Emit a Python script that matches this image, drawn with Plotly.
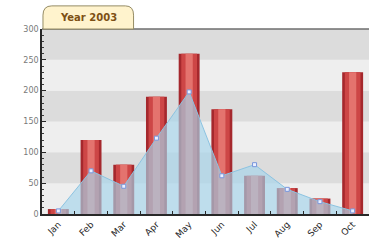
import plotly.graph_objects as go

months = ["Jan", "Feb", "Mar", "Apr", "May", "Jun", "Jul", "Aug", "Sep", "Oct"]
bar_values = [8, 120, 80, 190, 260, 170, 62, 42, 25, 230]
line_values = [5, 70, 45, 123, 198, 62, 80, 40, 20, 5]
y_ticks = [0, 50, 100, 150, 200, 250, 300]
title_text = "Year 2003"

fig = go.Figure()

# cylinder-like bars: dark outer, lighter inner
fig.add_trace(go.Bar(x=months, y=bar_values, width=0.64,
                     marker=dict(color="rgb(165,40,45)", line=dict(width=0)),
                     hoverinfo="skip", showlegend=False))
fig.add_trace(go.Bar(x=months, y=bar_values, width=0.48,
                     marker=dict(color="rgb(205,70,70)", line=dict(width=0)),
                     hoverinfo="skip", showlegend=False))
fig.add_trace(go.Bar(x=months, y=bar_values, width=0.22,
                     marker=dict(color="rgb(228,115,110)", line=dict(width=0)),
                     hoverinfo="skip", showlegend=False))

fig.add_trace(go.Scatter(x=months, y=line_values, mode="lines+markers",
                         fill="tozeroy", fillcolor="rgba(165,212,235,0.65)",
                         line=dict(color="rgb(140,195,225)", width=1),
                         marker=dict(symbol="square", size=4, color="rgb(235,240,255)",
                                     line=dict(color="rgb(120,150,220)", width=1)),
                         showlegend=False))

# alternating background bands between major ticks
shapes = []
for i in range(len(y_ticks) - 1):
    col = "rgb(220,220,220)" if i % 2 == 1 else "rgb(238,238,238)"
    shapes.append(dict(type="rect", xref="paper", yref="y", x0=0, x1=1,
                       y0=y_ticks[i], y1=y_ticks[i + 1], fillcolor=col,
                       line=dict(width=0), layer="below"))
# top border of plot
shapes.append(dict(type="line", xref="paper", yref="paper", x0=0, x1=1, y0=1, y1=1,
                   line=dict(color="rgb(110,110,110)", width=1.5)))
# title tab
shapes.append(dict(type="path", xref="paper", yref="paper",
                   path="M 0.003,1.0 L 0.003,1.075 Q 0.003,1.125 0.03,1.125 L 0.255,1.125 Q 0.28,1.125 0.28,1.075 L 0.28,1.0 Z",
                   fillcolor="rgb(255,243,205)", line=dict(color="rgb(150,140,100)", width=1)))

fig.update_layout(
    width=371, height=246,
    margin=dict(l=42, r=2, t=29, b=32),
    paper_bgcolor="white", plot_bgcolor="rgb(238,238,238)",
    barmode="overlay", bargap=0.4,
    shapes=shapes,
    font=dict(family="DejaVu Sans", size=8, color="rgb(90,90,90)"),
    annotations=[dict(text="<b>" + title_text + "</b>", xref="paper", yref="paper",
                      x=0.1415, y=1.062, xanchor="center", yanchor="middle",
                      showarrow=False, font=dict(size=10, color="rgb(125,80,20)",
                                                 family="DejaVu Sans"))],
)
fig.update_xaxes(type="category", showgrid=False, showline=True, automargin=False,
                 linecolor="rgb(40,40,40)", linewidth=1.5,
                 ticks="inside", ticklen=3, tickcolor="rgb(40,40,40)",
                 tickson="boundaries", tickangle=-45,
                 tickfont=dict(size=9, color="rgb(40,40,40)"))
fig.update_yaxes(range=[0, 300], tickvals=y_ticks, showgrid=False, zeroline=False,
                 showline=True, linecolor="rgb(40,40,40)", linewidth=1.5, automargin=False,
                 ticks="inside", ticklen=4, tickcolor="rgb(40,40,40)",
                 minor=dict(dtick=10, ticks="inside", ticklen=2, tickcolor="rgb(60,60,60)"),
                 tickfont=dict(size=8, color="rgb(120,120,120)"))

fig.write_html("out.html", config={"displayModeBar": False},
               post_script="document.body.style.margin='0';")
